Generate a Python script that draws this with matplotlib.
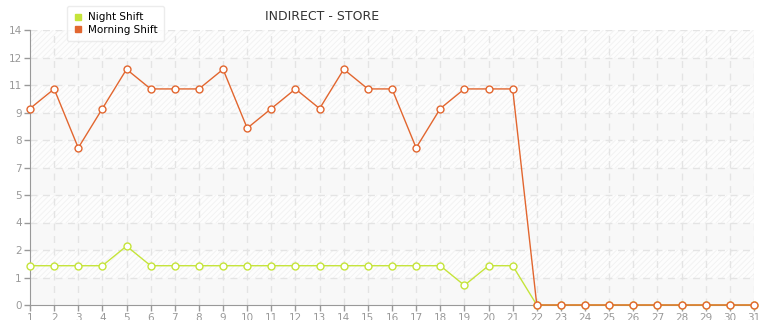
"""
Night / morning shift counts per day of the month.
"""

import matplotlib
matplotlib.use("Agg")
import matplotlib.pyplot as plt
from matplotlib.lines import Line2D

DAYS = list(range(1, 32))
NIGHT = [2, 2, 2, 2, 3, 2, 2, 2, 2, 2, 2, 2, 2, 2, 2, 2, 2, 2, 1, 2, 2,
         0, 0, 0, 0, 0, 0, 0, 0, 0, 0]
MORNING = [10, 11, 8, 10, 12, 11, 11, 11, 12, 9, 10, 11, 10, 12, 11, 11, 8, 10, 11, 11, 11,
           0, 0, 0, 0, 0, 0, 0, 0, 0, 0]
Y_TICKS = [i * 1.4 for i in range(11)]
Y_LABELS = [str(int(round(v, 6))) for v in Y_TICKS]
TITLE = "INDIRECT - STORE"

NIGHT_COLOR = "#c5e43a"
MORNING_COLOR = "#e2662f"


def main():
    plt.rcParams["hatch.linewidth"] = 0.6
    fig = plt.figure(figsize=(7.65, 3.2), dpi=100)
    ax = fig.add_axes([30 / 765, 15 / 320, 724 / 765, 275 / 320])

    """Alternating background bands."""
    for i in range(len(Y_TICKS) - 1):
        lo, hi = Y_TICKS[i], Y_TICKS[i + 1]
        if i % 2 == 0:
            ax.axhspan(lo, hi, facecolor="#f8f8f8", edgecolor="none", zorder=0)
        else:
            ax.axhspan(lo, hi, facecolor="#fdfdfd", edgecolor="#f1f1f1", hatch="//////",
                       linewidth=0, zorder=0)

    """Dashed grid."""
    for v in Y_TICKS[1:]:
        ax.axhline(v, color="#e4e4e4", linestyle=(0, (5, 4)), linewidth=1, zorder=1)
    for d in DAYS[1:]:
        ax.axvline(d, color="#e4e4e4", linestyle=(0, (5, 4)), linewidth=1, zorder=1)

    ax.plot(DAYS, NIGHT, color=NIGHT_COLOR, linewidth=1, marker="o", markersize=5,
            markerfacecolor="white", markeredgecolor=NIGHT_COLOR, markeredgewidth=1,
            zorder=3, clip_on=False)
    ax.plot(DAYS, MORNING, color=MORNING_COLOR, linewidth=1, marker="o", markersize=5,
            markerfacecolor="white", markeredgecolor=MORNING_COLOR, markeredgewidth=1,
            zorder=4, clip_on=False)

    ax.set_xlim(1, 31)
    ax.set_ylim(0, 14)
    ax.set_xticks(DAYS)
    ax.set_xticklabels([str(d) for d in DAYS])
    ax.set_yticks(Y_TICKS)
    ax.set_yticklabels(Y_LABELS)
    ax.tick_params(axis="both", colors="#999999", labelcolor="#999999", labelsize=7.5,
                   length=4, width=1, pad=2)
    for side in ["top", "right"]:
        ax.spines[side].set_visible(False)
    for side in ["left", "bottom"]:
        ax.spines[side].set_color("#999999")

    fig.text(322 / 765, 1 - 17 / 320, TITLE, ha="center", va="center",
             fontsize=9, color="#333333")

    """Legend in a white rounded box."""
    handles = [
        Line2D([], [], linestyle="none", marker="s", markersize=4,
               color=NIGHT_COLOR, label="Night Shift"),
        Line2D([], [], linestyle="none", marker="s", markersize=4,
               color=MORNING_COLOR, label="Morning Shift"),
    ]
    leg = fig.legend(handles=handles, loc="upper left",
                     bbox_to_anchor=(65 / 765, 1 - 4 / 320), fontsize=7.5,
                     frameon=True, fancybox=True, shadow=False,
                     handlelength=0.8, handletextpad=0.6, labelspacing=0.25,
                     borderpad=0.6, borderaxespad=0.2, edgecolor="#e8e8e8")
    leg.get_frame().set_facecolor("white")
    leg.set_zorder(10)

    fig.savefig("out.png", dpi=100)


if __name__ == "__main__":
    main()
